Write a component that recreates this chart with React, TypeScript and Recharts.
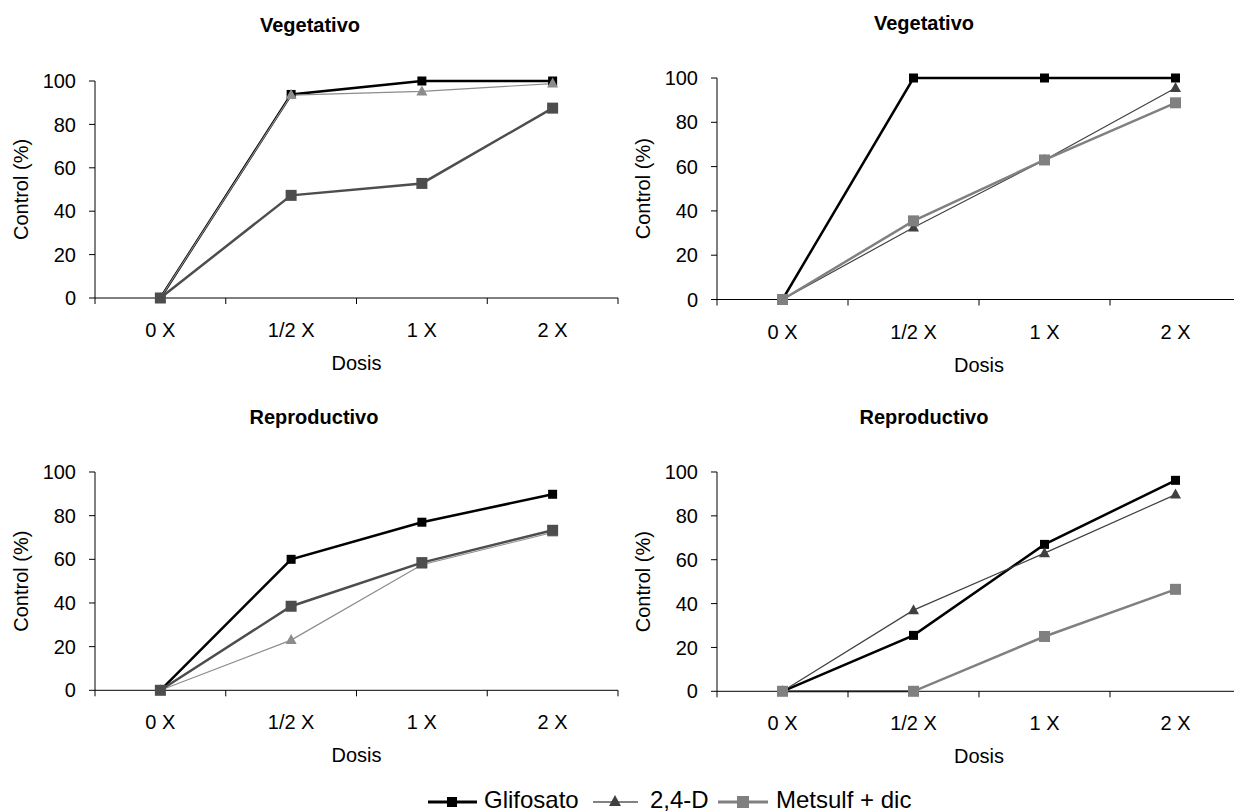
import React from 'react'
import { LineChart, Line, XAxis, YAxis } from 'recharts'

// categories and tick labels
const doses = ['0 X', '1/2 X', '1 X', '2 X']
const yTicks = [0, 20, 40, 60, 80, 100]
const seriesNames = ['Glifosato', '2,4-D', 'Metsulf + dic']

// Vegetativo (left)
const vegLeftGlifosato = [0, 93.8, 100, 100]
const vegLeft24D = [0, 93.5, 95.2, 98.8]
const vegLeftMetsulf = [0, 47.3, 52.8, 87.5]

// Vegetativo (right)
const vegRightGlifosato = [0, 100, 100, 100]
const vegRight24D = [0, 32.5, 63, 95.5]
const vegRightMetsulf = [0, 35.5, 63, 88.8]

// Reproductivo (left)
const repLeftGlifosato = [0, 60, 77, 89.8]
const repLeft24D = [0, 23, 57.5, 72.3]
const repLeftMetsulf = [0, 38.5, 58.5, 73.3]

// Reproductivo (right)
const repRightGlifosato = [0, 25.5, 67, 96.2]
const repRight24D = [0, 37, 63, 89.7]
const repRightMetsulf = [0, 0, 25, 46.5]

const FONT = '"Liberation Sans", Arial, Helvetica, sans-serif'
const Y_AXIS_W = 95
const X_AXIS_H = 80
const TOP_PAD = 90

type PanelProps = {
  title: string
  titleX: number
  titleY: number
  plotLeft: number
  plotTop: number
  plotBottom: number
  plotWidth: number
  gli: number[]
  d24: number[]
  met: number[]
  d24Color: string
  metColor: string
}

const square = (size: number, color: string) => (p: any) => {
  if (p.cx == null || p.cy == null) return <g key={p.index} />
  return (
    <rect
      key={p.index}
      x={p.cx - size / 2}
      y={p.cy - size / 2}
      width={size}
      height={size}
      fill={color}
    />
  )
}

const triangle = (color: string) => (p: any) => {
  if (p.cx == null || p.cy == null) return <g key={p.index} />
  const { cx, cy } = p
  return (
    <polygon
      key={p.index}
      points={`${cx},${cy - 6} ${cx - 5.5},${cy + 4} ${cx + 5.5},${cy + 4}`}
      fill={color}
    />
  )
}

const DoseTick = (props: any) => {
  const { x, y, payload, index, band } = props
  const axisY = y - 8
  return (
    <g>
      <line x1={x - band / 2} x2={x - band / 2} y1={axisY} y2={axisY + 6} stroke="#000" />
      {index === doses.length - 1 && (
        <line x1={x + band / 2} x2={x + band / 2} y1={axisY} y2={axisY + 6} stroke="#000" />
      )}
      <text
        x={x}
        y={axisY + 32}
        dy="0.355em"
        textAnchor="middle"
        fill="#000"
        fontSize={20}
        fontFamily={FONT}
      >
        {payload.value}
      </text>
    </g>
  )
}

const Panel = (p: PanelProps) => {
  const plotHeight = p.plotBottom - p.plotTop
  const width = Y_AXIS_W + p.plotWidth + 10
  const height = TOP_PAD + plotHeight + X_AXIS_H
  const band = p.plotWidth / doses.length
  const data = doses.map((d, i) => ({
    dose: d,
    gli: p.gli[i],
    d24: p.d24[i],
    met: p.met[i],
  }))
  return (
    <>
      <div
        style={{
          position: 'absolute',
          left: p.titleX - 100,
          width: 200,
          top: p.titleY - 12,
          height: 24,
          lineHeight: '24px',
          textAlign: 'center',
          fontWeight: 'bold',
          fontSize: 20,
          fontFamily: FONT,
        }}
      >
        {p.title}
      </div>
      <div
        style={{
          position: 'absolute',
          left: p.plotLeft - Y_AXIS_W,
          top: p.plotTop - TOP_PAD,
        }}
      >
        <LineChart
          width={width}
          height={height}
          data={data}
          margin={{ top: TOP_PAD, right: 10, bottom: 0, left: 0 }}
        >
          <XAxis
            dataKey="dose"
            interval={0}
            height={X_AXIS_H}
            padding={{ left: band / 2, right: band / 2 }}
            axisLine={{ stroke: '#000' }}
            tickLine={false}
            tick={<DoseTick band={band} />}
            label={{
              value: 'Dosis',
              position: 'insideTop',
              offset: 58,
              fill: '#000',
              fontSize: 20,
              fontFamily: FONT,
            }}
          />
          <YAxis
            width={Y_AXIS_W}
            domain={[0, 100]}
            ticks={yTicks}
            interval={0}
            tickSize={6}
            tickMargin={13}
            axisLine={{ stroke: '#000' }}
            tickLine={{ stroke: '#000' }}
            tick={{ fill: '#000', fontSize: 20, fontFamily: FONT }}
            label={{
              value: 'Control (%)',
              angle: -90,
              position: 'insideLeft',
              offset: 21,
              fill: '#000',
              fontSize: 20,
              fontFamily: FONT,
              style: { textAnchor: 'middle' },
            }}
          />
          <Line
            dataKey="gli"
            name={seriesNames[0]}
            stroke="#000"
            strokeWidth={2.5}
            dot={square(9, '#000')}
            isAnimationActive={false}
          />
          <Line
            dataKey="d24"
            name={seriesNames[1]}
            stroke={p.d24Color}
            strokeWidth={1.2}
            dot={triangle(p.d24Color)}
            isAnimationActive={false}
          />
          <Line
            dataKey="met"
            name={seriesNames[2]}
            stroke={p.metColor}
            strokeWidth={2.5}
            dot={square(11, p.metColor)}
            isAnimationActive={false}
          />
        </LineChart>
      </div>
    </>
  )
}

const Legend = () => (
  <svg
    width={520}
    height={36}
    style={{ position: 'absolute', left: 420, top: 784 }}
    fontFamily={FONT}
    fontSize={24}
  >
    <line x1={8} x2={57} y1={18} y2={18} stroke="#000" strokeWidth={3} />
    <rect x={27} y={13} width={10} height={10} fill="#000" />
    <text x={64} y={24}>{seriesNames[0]}</text>
    <line x1={173} x2={218} y1={18} y2={18} stroke="#595959" strokeWidth={1.5} />
    <polygon points="195,11 189,22 201,22" fill="#404040" />
    <text x={230} y={24}>{seriesNames[1]}</text>
    <line x1={298} x2={348} y1={18} y2={18} stroke="#808080" strokeWidth={3} />
    <rect x={317} y={12} width={12} height={12} fill="#808080" />
    <text x={356} y={24}>{seriesNames[2]}</text>
  </svg>
)

export default function App() {
  return (
    <div
      style={{
        position: 'absolute',
        left: 0,
        top: 0,
        width: 1234,
        height: 812,
        overflow: 'hidden',
        background: '#fff',
        fontFamily: FONT,
      }}
    >
      <Panel
        title="Vegetativo"
        titleX={310}
        titleY={25}
        plotLeft={95}
        plotTop={81}
        plotBottom={298}
        plotWidth={523}
        gli={vegLeftGlifosato}
        d24={vegLeft24D}
        met={vegLeftMetsulf}
        d24Color="#8c8c8c"
        metColor="#4d4d4d"
      />
      <Panel
        title="Vegetativo"
        titleX={924}
        titleY={23}
        plotLeft={717}
        plotTop={77.5}
        plotBottom={299}
        plotWidth={524}
        gli={vegRightGlifosato}
        d24={vegRight24D}
        met={vegRightMetsulf}
        d24Color="#404040"
        metColor="#808080"
      />
      <Panel
        title="Reproductivo"
        titleX={314}
        titleY={417}
        plotLeft={95}
        plotTop={471.7}
        plotBottom={690}
        plotWidth={523}
        gli={repLeftGlifosato}
        d24={repLeft24D}
        met={repLeftMetsulf}
        d24Color="#8c8c8c"
        metColor="#4d4d4d"
      />
      <Panel
        title="Reproductivo"
        titleX={924}
        titleY={417}
        plotLeft={717}
        plotTop={471.7}
        plotBottom={691}
        plotWidth={524}
        gli={repRightGlifosato}
        d24={repRight24D}
        met={repRightMetsulf}
        d24Color="#404040"
        metColor="#808080"
      />
      <Legend />
    </div>
  )
}
